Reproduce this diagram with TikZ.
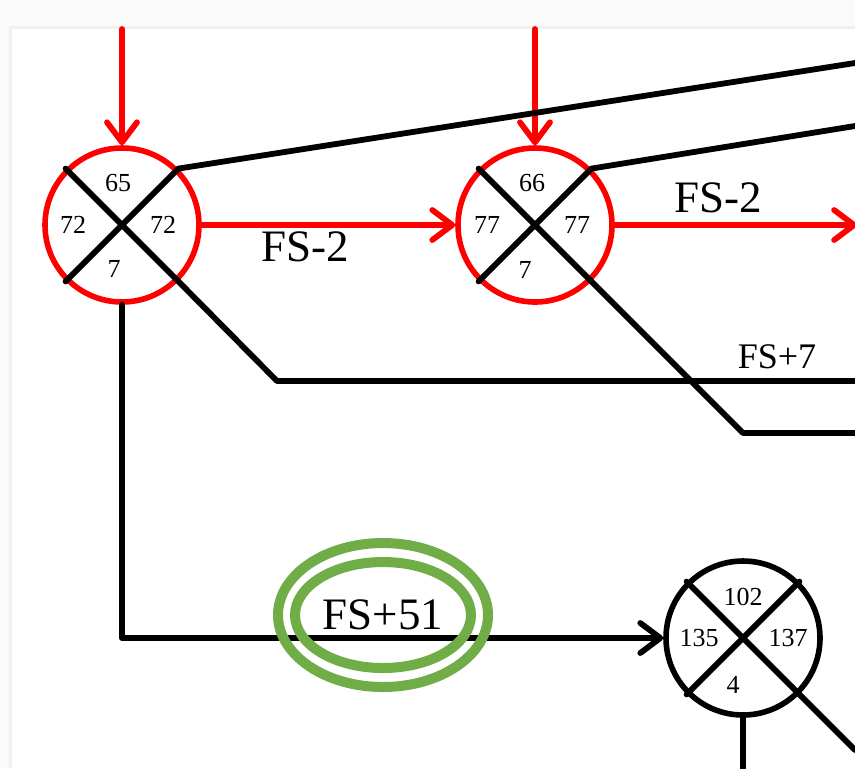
\documentclass[tikz,border=0pt]{standalone}
\usepackage{fontspec}
\setmainfont{Liberation Serif}
\usetikzlibrary{calc}
\usetikzlibrary{positioning}
\usetikzlibrary{shapes.geometric}
\usetikzlibrary{arrows.meta}
\definecolor{ringgreen}{RGB}{112,173,71}
\tikzstyle{cellnode} = [draw, circle, minimum size=77pt, inner sep=0pt, line width=2.8pt]
\tikzstyle{colorR} = [draw=red]
\tikzstyle{colorK} = [draw=black]
\tikzstyle{numlabel} = [inner sep=0pt, font=\fontsize{13}{13}\selectfont]
\tikzstyle{shiftlabel} = [inner sep=0pt, font=\fontsize{22.5}{22.5}\selectfont]
\tikzstyle{wire} = [line width=2.9pt, line cap=round, line join=round]
\tikzstyle{redwire} = [wire, red]
\tikzstyle{flowarrow} = [-{Straight Barb[length=10pt, width=15pt, round]}]
\tikzstyle{greenring} = [draw=ringgreen, line width=5pt]

\begin{document}
\begin{tikzpicture}[x=0.5pt, y=-0.5pt]
    \useasboundingbox (0,0) rectangle (855,768);
    \fill[gray!4] (0,0) rectangle (855,768);
    \fill[gray!12] (9,26) rectangle (855,768);
    \fill[white] (12,29) rectangle (855,768);

    \node[cellnode, colorR] (cell_a) at (122,225) {};
    \node[cellnode, colorR] (cell_b) at ($(cell_a)+(413,0)$) {};
    \node[cellnode, colorK] (cell_c) at ($(cell_a)+(621,413)$) {};

    \node[numlabel] (a_top) at ($(cell_a)+(-4,-42)$) {65};
    \node[numlabel] (a_left) at ($(cell_a)+(-49,0)$) {72};
    \node[numlabel] (a_right) at ($(cell_a)+(41,0)$) {72};
    \node[numlabel] (a_bottom) at ($(cell_a)+(-8,44)$) {7};

    \node[numlabel] (b_top) at ($(cell_b)+(-3,-42)$) {66};
    \node[numlabel] (b_left) at ($(cell_b)+(-48,0)$) {77};
    \node[numlabel] (b_right) at ($(cell_b)+(42,0)$) {77};
    \node[numlabel] (b_bottom) at ($(cell_b)+(-10,45)$) {7};

    \node[numlabel] (c_top) at ($(cell_c)+(0,-41)$) {102};
    \node[numlabel] (c_left) at ($(cell_c)+(-44,0)$) {135};
    \node[numlabel] (c_right) at ($(cell_c)+(45,0)$) {137};
    \node[numlabel] (c_bottom) at ($(cell_c)+(-10,47)$) {4};

    \coordinate (in_a) at (122,29);
    \coordinate (in_b) at (535,29);
    \coordinate (out_b) at (857,225);
    \coordinate (bend_a) at (277,381);
    \coordinate (end_a) at (855,381);
    \coordinate (bend_b) at (743,433);
    \coordinate (end_b) at (855,433);
    \coordinate (far_a) at (855,63);
    \coordinate (far_b) at (855,126);
    \coordinate (far_c) at (855,750);
    \coordinate (down_c) at (743,768);

    \draw[redwire, flowarrow] (in_a) -- (cell_a.north);
    \draw[redwire, flowarrow] (in_b) -- (cell_b.north);
    \draw[redwire, flowarrow] (cell_a.east) -- (cell_b.west);
    \draw[redwire, flowarrow] (cell_b.east) -- (out_b);

    \draw[wire] (cell_a.north west) -- (cell_a.south east) -- (bend_a) -- (end_a);
    \draw[wire] (cell_a.south west) -- (cell_a.north east) -- (far_a);
    \draw[wire] (cell_b.north west) -- (cell_b.south east) -- (bend_b) -- (end_b);
    \draw[wire] (cell_b.south west) -- (cell_b.north east) -- (far_b);
    \draw[wire] (cell_c.north west) -- (cell_c.south east) -- (far_c);
    \draw[wire] (cell_c.south west) -- (cell_c.north east);
    \draw[wire] (cell_c.south) -- (down_c);
    \draw[wire, flowarrow] (cell_a.south) |- (cell_c.west);

    \node[shiftlabel] (lbl_ab) at (305,247) {FS-2};
    \node[shiftlabel] (lbl_out) at (718,198) {FS-2};
    \node[inner sep=0pt, font=\fontsize{18}{18}\selectfont] (lbl_seven) at (777,357) {FS+7};
    \node[shiftlabel, ellipse, greenring, minimum width=88pt, minimum height=53pt] (lbl_ac) at (383,615) {FS+51};
    \draw[greenring] (lbl_ac.center) ellipse (105 and 72);
\end{tikzpicture}
\end{document}
